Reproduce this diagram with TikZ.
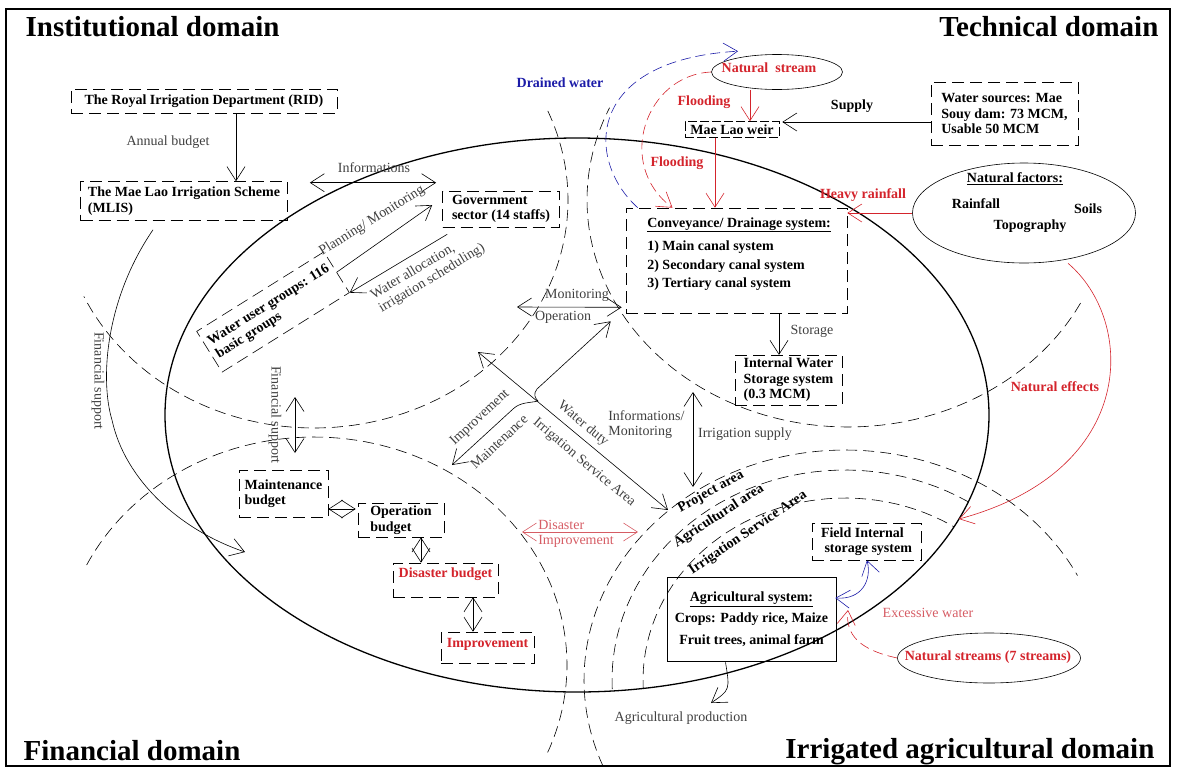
\documentclass[tikz,border=0pt]{standalone}
\usepackage{fontspec}
\setmainfont{Liberation Serif}
\usepackage{xcolor}
\usepackage{tikz}
\usetikzlibrary{calc}
\usetikzlibrary{arrows.meta}
\usetikzlibrary{shapes.geometric}
\usetikzlibrary{positioning}

\definecolor{flood}{RGB}{212,36,44}
\definecolor{drain}{RGB}{28,28,168}
\definecolor{palered}{RGB}{214,92,100}
\definecolor{note}{RGB}{64,64,64}

\newcommand{\txt}{\fontsize{14}{15.5}\selectfont}
\newcommand{\txtbf}{\fontsize{14}{15.5}\selectfont\bfseries}
\newcommand{\headbf}{\fontsize{29}{32}\selectfont\bfseries}

\tikzset{>={Straight Barb[length=14pt,width=18pt]}}
\tikzstyle{dbox} = [draw, dash pattern=on 12pt off 6pt, inner sep=3pt, font=\txtbf, align=left]
\tikzstyle{zone} = [dash pattern=on 11pt off 6pt]
\tikzstyle{lab} = [font=\txt, text=note, inner sep=1pt]
\tikzstyle{redlab} = [font=\txtbf, text=flood, inner sep=1pt]

\begin{document}
\begin{tikzpicture}[x=1pt, y=-1pt, line width=0.6pt]
\useasboundingbox (0,0) rectangle (1179,769);
\draw [line width=2pt] (6,9) rectangle (1170,766);

% domain titles
\node [anchor=base west, font=\headbf] (inst) at (22,36) {Institutional domain};
\node [anchor=base east, font=\headbf] (tech) at (1162,36) {Technical domain};
\node [anchor=base west, font=\headbf] (fin) at (20,760) {Financial domain};
\node [anchor=base east, font=\headbf] (irr) at (1158,758) {Irrigated agricultural domain};

% scheme and domain borders
\draw [line width=1.3pt] (577,415) ellipse [x radius=412pt, y radius=277pt];
\draw [zone] plot [domain=-23:155, samples=90] ({314+254*cos(\x)},{200+228*sin(\x)});
\draw [zone] plot [domain=27:204, samples=90] ({848+261*cos(\x)},{200+227*sin(\x)});
\draw [zone] plot [domain=206:383, samples=90] ({314+253*cos(\x)},{665+228*sin(\x)});
\draw [zone] plot [domain=158:333, samples=90] ({845+261*cos(\x)},{680+230*sin(\x)});
\begin{scope}
\clip (577,415) ellipse [x radius=412pt, y radius=277pt];
\draw [zone] plot [domain=150:400, samples=90] ({845+233*cos(\x)},{680+210*sin(\x)});
\draw [zone] plot [domain=150:400, samples=90] ({845+202*cos(\x)},{680+182*sin(\x)});
\end{scope}

% institutional
\node [dbox, align=center, minimum width=266pt, minimum height=24pt] (rid) at (204,101) {The Royal Irrigation Department (RID)};
\node [dbox, minimum width=207pt, minimum height=39pt] (mlis) at (184,201) {The Mae Lao Irrigation Scheme\\(MLIS)};
\node [dbox, minimum width=117pt, minimum height=36pt] (gov) at (501,209) {Government\\sector (14 staffs)};
\node [dbox, rotate=32, minimum width=150pt, minimum height=48pt] (wug) at (273,312) {Water user groups: 116\\basic groups};
\node [lab] (annual) at (168,142) {Annual budget};
\node [lab] (info) at (374,168) {Informations};
\node [lab, rotate=32] (plan) at (372,221) {Planning/ Monitoring};
\node [lab, rotate=31, align=left] (alloc) at (428,272) {Water allocation,\\irrigation scheduling)};
\draw [->] ($(rid.south)+(32,0)$) -- ($(mlis.north)+(52,0)$);
\draw [<->] ($(mlis.north east)+(22,1.5)$) -- ($(gov.north west)+(-6,-8)$);
\draw [->] (wug.east) -- ($(gov.west)+(-10,-4)$);
\draw [->] ($(gov.south west)+(5,7)$) -- (wug.south east);

% technical
\node [draw, ellipse, minimum width=131pt, minimum height=35pt] (stream) at (777,72) {};
\node [redlab] (streamtxt) at (769,68) {Natural\ \ stream};
\node [dbox, minimum width=94pt, minimum height=16pt, inner sep=1pt, dash pattern=on 9pt off 3pt] (weir) at (732,129.5) {Mae Lao weir};
\node [dbox, minimum width=147pt, minimum height=63pt] (src) at (1004.5,113.5) {Water sources: Mae\\Souy dam: 73 MCM,\\Usable 50 MCM};
\node [dbox, minimum width=221pt, minimum height=105pt] (conv) at (736.5,260.5) {};
\node [anchor=north west, font=\txtbf, align=left, inner sep=0pt] (convtxt) at (647,217) {\underline{Conveyance/ Drainage system:}\\[8pt]1) Main canal system\\[3pt]2) Secondary canal system\\[3pt]3) Tertiary canal system};
\node [dbox, minimum width=107pt, minimum height=46pt] (iws) at (788.5,380) {Internal Water\\Storage system\\(0.3 MCM)};
\node [draw, ellipse, minimum width=223pt, minimum height=100pt] (factors) at (1024,213) {};
\node [font=\txtbf] (factxt) at (1015,179) {\underline{Natural factors:}};
\node [font=\txtbf] (rain) at (976,204) {Rainfall};
\node [font=\txtbf] (soil) at (1088,209) {Soils};
\node [font=\txtbf] (topo) at (1030,226) {Topography};
\node [redlab] (flood1) at (704,102) {Flooding};
\node [redlab] (flood2) at (677,163) {Flooding};
\node [font=\txtbf, text=drain] (drained) at (560,83) {Drained water};
\node [font=\txtbf] (supply) at (852,106) {Supply};
\node [redlab] (heavy) at (863,195) {Heavy rainfall};
\node [redlab] (effects) at (1055,387) {Natural effects};
\node [lab] (storage) at (812,331) {Storage};
\draw [->, flood] ($(stream.south)+(-27,0)$) -- ($(weir.north)+(18,0)$);
\draw [->, flood] ($(weir.south)+(-17,0)$) -- ($(conv.north)+(-21.5,0)$);
\draw [->, flood, dash pattern=on 10pt off 5pt] (stream.west) .. controls (645,75) and (615,165) .. ($(conv.north)+(-64,0)$);
\draw [->, drain, dash pattern=on 10pt off 5pt] ($(conv.north west)+(12,0)$) .. controls (585,160) and (585,60) .. ($(stream.north)+(-39,-3)$);
\draw [->] ($(src.west)+(0,8.5)$) -- ($(weir.east)+(3,-7.5)$);
\draw [->, flood] (factors.west) -- (factors.west -| conv.east);
\draw [->] ($(conv.south)+(42.5,0)$) -- ($(iws.north)+(-9.5,0)$);
\coordinate (effhit) at (959,519);
\draw [->, flood] ($(factors.south)+(44,0)$) .. controls (1135,320) and (1140,470) .. (effhit);

% links across the scheme
\coordinate (monl) at (517,307);
\coordinate (isatop) at (478,352);
\coordinate (isabot) at (668,510);
\coordinate (imptip) at (452,465);
\coordinate (supup) at (693,392);
\coordinate (supdn) at (693,487);
\draw [<->] (monl) -- ($(conv.south west)+(-4,-6)$);
\node [lab] (monit) at (577,295) {Monitoring};
\node [lab] (operat) at (563,317) {Operation};
\draw [<->] (isatop) -- (isabot);
\draw [<->] (imptip) -- (513,409) .. controls (520,402) and (530,403) .. (538,401) .. controls (535,398) and (533,394) .. (537,389) -- ($(conv.south west)+(-15,8)$);
\node [lab, rotate=43] (improve) at (480,418) {Improvement};
\node [lab, rotate=43] (maintain) at (499,442) {Maintenance};
\node [lab, rotate=-40] (duty) at (583,424) {Water duty};
\node [lab, rotate=-40] (isa) at (584,463) {Irrigation Service Area};
\node [lab, anchor=west, align=left] (infomon) at (607,424.5) {Informations/\\Monitoring};
\draw [<->] (supup) -- (supdn);
\node [lab] (irrsup) at (745,434) {Irrigation supply};

% financial
\node [dbox, minimum width=89pt, minimum height=47pt] (maint) at (283.5,493.5) {Maintenance\\budget};
\node [dbox, minimum width=86pt, minimum height=34pt] (oper) at (401,520) {Operation\\budget};
\node [dbox, minimum width=105pt, minimum height=34pt, text=flood, text depth=14pt] (disb) at (445.5,580) {Disaster budget};
\node [dbox, minimum width=93pt, minimum height=31pt, text=flood, text depth=10pt] (impr) at (487.5,647.5) {Improvement};
\draw [<->] ($(maint.east)+(0,15.5)$) -- ($(oper.west)+(-2,-11)$);
\draw [<->] ($(oper.south)+(20,0)$) -- ($(disb.north)+(-24.5,0)$);
\draw [<->] ($(disb.south)+(27.5,0)$) -- ($(impr.north)+(-14.5,0)$);
\coordinate (fsup) at (295,397);
\coordinate (fsdn) at (295,453);
\draw [<->] (fsup) -- (fsdn);
\node [lab, rotate=-90] (finsup) at (275,415) {Financial support};
\coordinate (finhit) at (245,552);
\draw [->] ($(mlis.south)+(-31,9)$) .. controls (105,300) and (100,380) .. (112,420) .. controls (125,480) and (180,530) .. (finhit);
\node [lab, rotate=-90] (finsup2) at (98,381) {Financial support};
\coordinate (disl) at (522,532);
\coordinate (disr) at (638,532);
\draw [<->, palered] (disl) -- (disr);
\node [font=\txt, text=palered, anchor=west, align=left, inner sep=1pt] (disimp) at (537,534) {Disaster\\Improvement};

% irrigated agriculture
\node [font=\txtbf, rotate=29] (proj) at (711,492) {Project area};
\node [font=\txtbf, rotate=33] (agarea) at (719,516) {Agricultural area};
\node [font=\txtbf, rotate=34] (isarea) at (748,533) {Irrigation Service Area};
\node [dbox, minimum width=109pt, minimum height=37pt] (field) at (866.5,541.5) {Field Internal\\\ storage system};
\node [draw, minimum width=169pt, minimum height=84pt, align=center, font=\txtbf] (agri) at (751.5,619) {\underline{Agricultural system:}\\[6pt]Crops: Paddy rice, Maize\\[6pt]Fruit trees, animal farm};
\node [draw, ellipse, minimum width=183pt, minimum height=50pt] (streams) at (989,658) {};
\node [redlab] (streamstxt) at (988,657) {Natural streams (7 streams)};
\node [font=\txt, text=palered] (excess) at (928,613) {Excessive water};
\node [lab] (prod) at (681,718) {Agricultural production};
\draw [<->, drain] ($(agri.east)+(-1,-21)$) .. controls (862,600) and (872,580) .. ($(field.south)+(0.5,0)$);
\coordinate (exhit) at (848,610);
\draw [->, flood, dash pattern=on 10pt off 5pt] (streams.west) .. controls (860,650) and (845,635) .. (exhit);
\draw [->] ($(agri.south)+(-26,1)$) .. controls (730,690) .. (711,703);
\end{tikzpicture}
\end{document}
